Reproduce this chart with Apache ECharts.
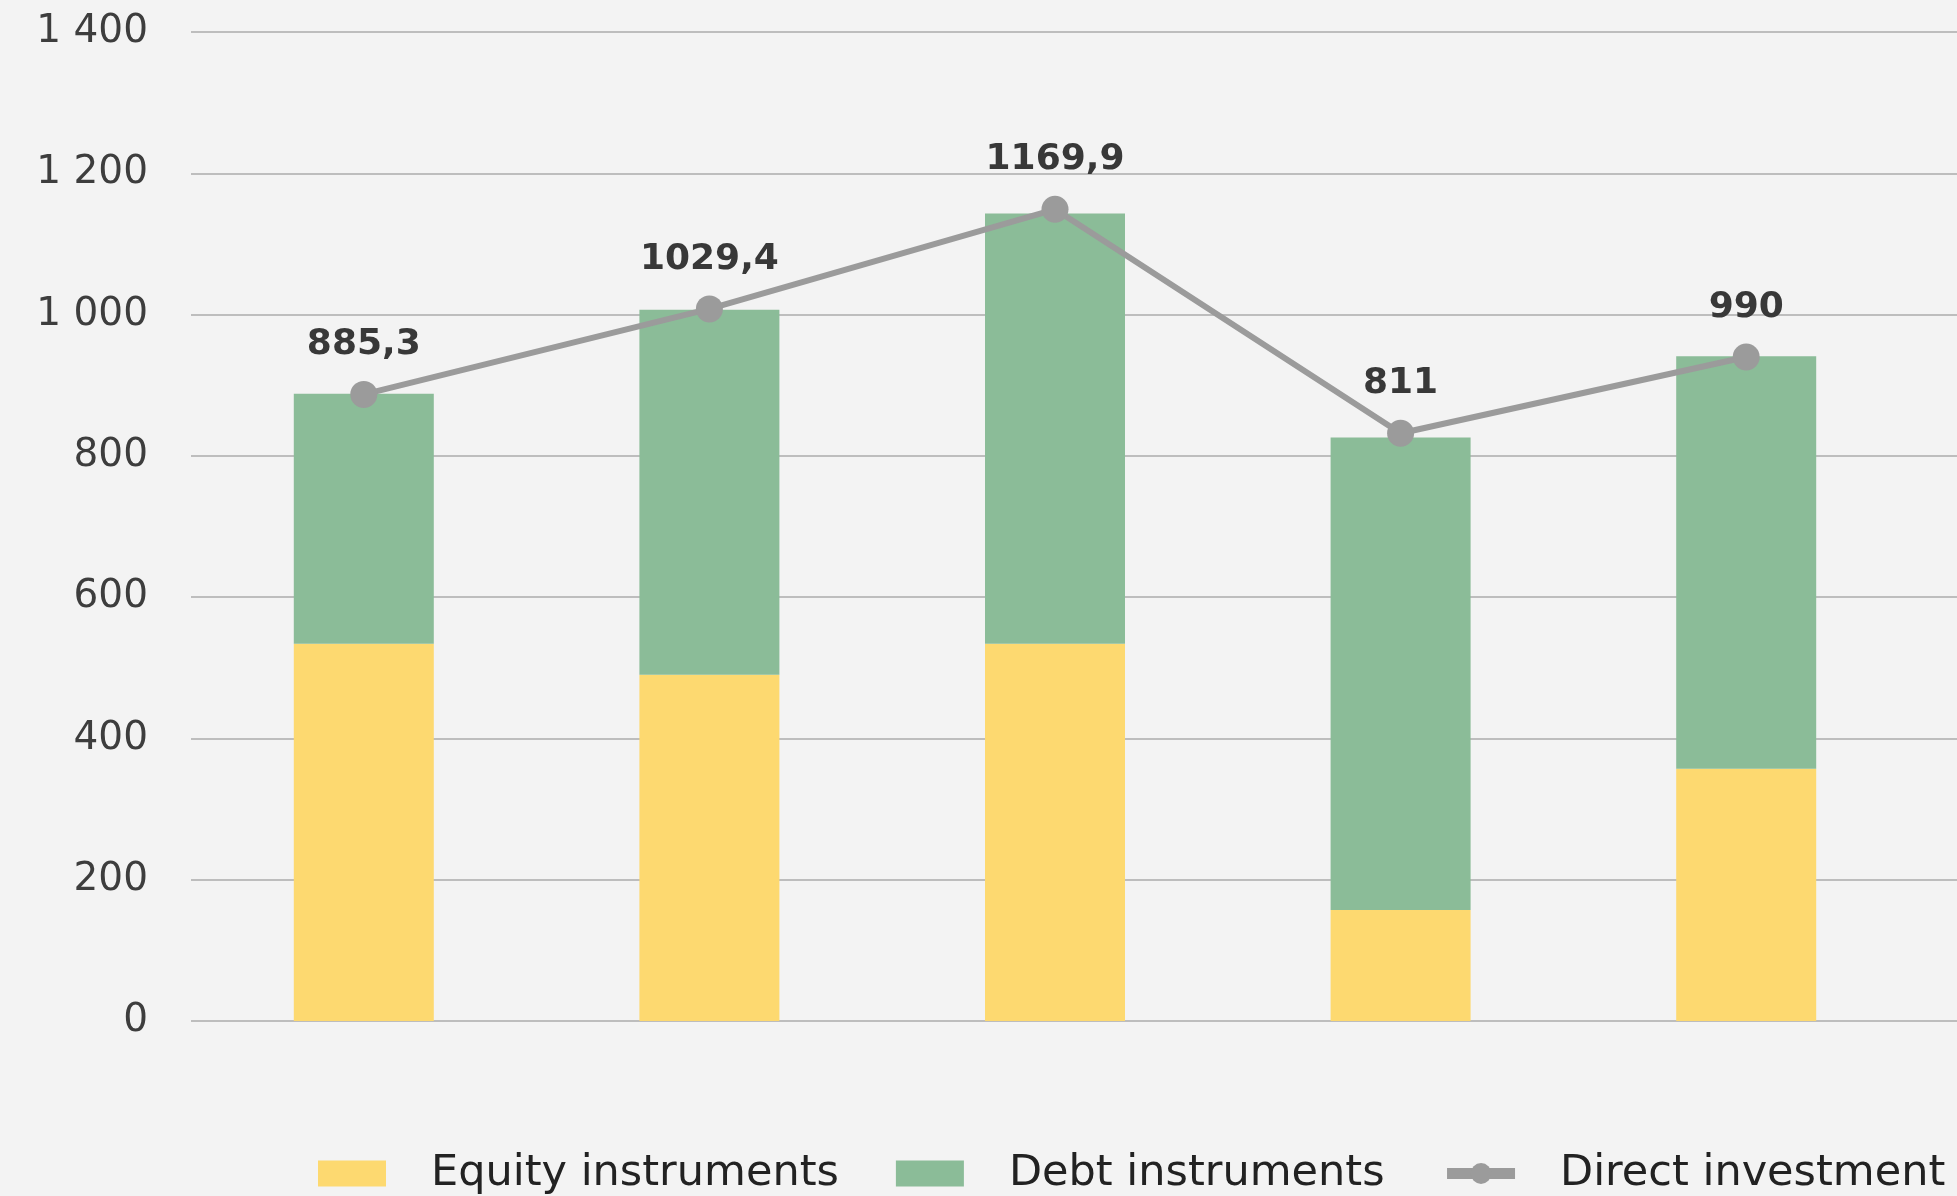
<!DOCTYPE html>
<html>
<head>
<meta charset="utf-8">
<script src="https://cdn.jsdelivr.net/npm/echarts@6/dist/echarts.min.js"></script>
<style>
html,body{margin:0;padding:0;background:#f3f3f3;}
#c{width:1957px;height:1196px;}
</style>
</head>
<body>
<div id="c"></div>
<script>
// Data (five periods, no category labels shown)
var categories = ['1', '2', '3', '4', '5'];
var equityInstruments = [534, 490, 534, 157, 357];
var debtInstruments = [354, 517, 609, 669, 584];
var directInvestment = [887, 1008, 1149, 832, 940];
var directInvestmentLabels = ['885,3', '1029,4', '1169,9', '811', '990'];
var yTicks = [0, 200, 400, 600, 800, 1000, 1200, 1400];

var FONT = '"DejaVu Sans", sans-serif';

var chart = echarts.init(document.getElementById('c'), null, {renderer:'canvas'});
chart.setOption({
  backgroundColor: '#f3f3f3',
  animation: false,
  grid: [
    {left: 191, right: 38, top: 32, bottom: 175},
    {left: 191, right: 0, top: 32, bottom: 175}
  ],
  xAxis: [
    {type: 'category', gridIndex: 0, data: categories, show: false},
    {type: 'category', gridIndex: 1, data: categories, show: false}
  ],
  yAxis: [
    {
      type: 'value', gridIndex: 0, min: 0, max: 1400, interval: 200,
      show: false, splitLine: {show: false}
    },
    {
      type: 'value', gridIndex: 1, min: 0, max: 1400, interval: 200,
      axisLine: {show: false}, axisTick: {show: false},
      axisLabel: {
        margin: 43, color: '#3d3d3d', fontSize: 39, fontFamily: FONT,
        formatter: function(v){
          if (yTicks.indexOf(v) < 0) return '';
          return v >= 1000 ? String(v).replace(/^(\d)(\d{3})$/, '$1 $2') : String(v);
        }
      },
      splitLine: {lineStyle: {color: '#bdbdbd', width: 2}}
    }
  ],
  legend: {
    left: 313, bottom: -4, width: 1800,
    itemWidth: 68, itemHeight: 26, itemGap: 57,
    textStyle: {fontSize: 43, color: '#222', fontFamily: FONT, padding: [0,0,0,40]},
    data: [
      {name: 'Equity instruments', icon: 'rect'},
      {name: 'Debt instruments', icon: 'rect'},
      {name: 'Direct investment', lineStyle: {width: 11}, itemStyle: {color: '#9b9b9b'}}
    ]
  },
  series: [
    {
      name: 'Equity instruments', type: 'bar', stack: 'total',
      xAxisIndex: 0, yAxisIndex: 0,
      barWidth: 140, itemStyle: {color: '#fdd970'},
      data: equityInstruments
    },
    {
      name: 'Debt instruments', type: 'bar', stack: 'total',
      xAxisIndex: 0, yAxisIndex: 0,
      barWidth: 140, itemStyle: {color: '#8bbc98'},
      data: debtInstruments
    },
    {
      name: 'Direct investment', type: 'line',
      xAxisIndex: 0, yAxisIndex: 0,
      symbol: 'circle', symbolSize: 27,
      lineStyle: {color: '#9b9b9b', width: 6},
      itemStyle: {color: '#9b9b9b'},
      label: {
        show: true, position: 'top', distance: 18,
        fontSize: 36, fontWeight: 'bold', color: '#383838', fontFamily: FONT,
        formatter: function(p){ return directInvestmentLabels[p.dataIndex]; }
      },
      data: directInvestment,
      z: 5
    }
  ]
});
</script>
</body>
</html>
